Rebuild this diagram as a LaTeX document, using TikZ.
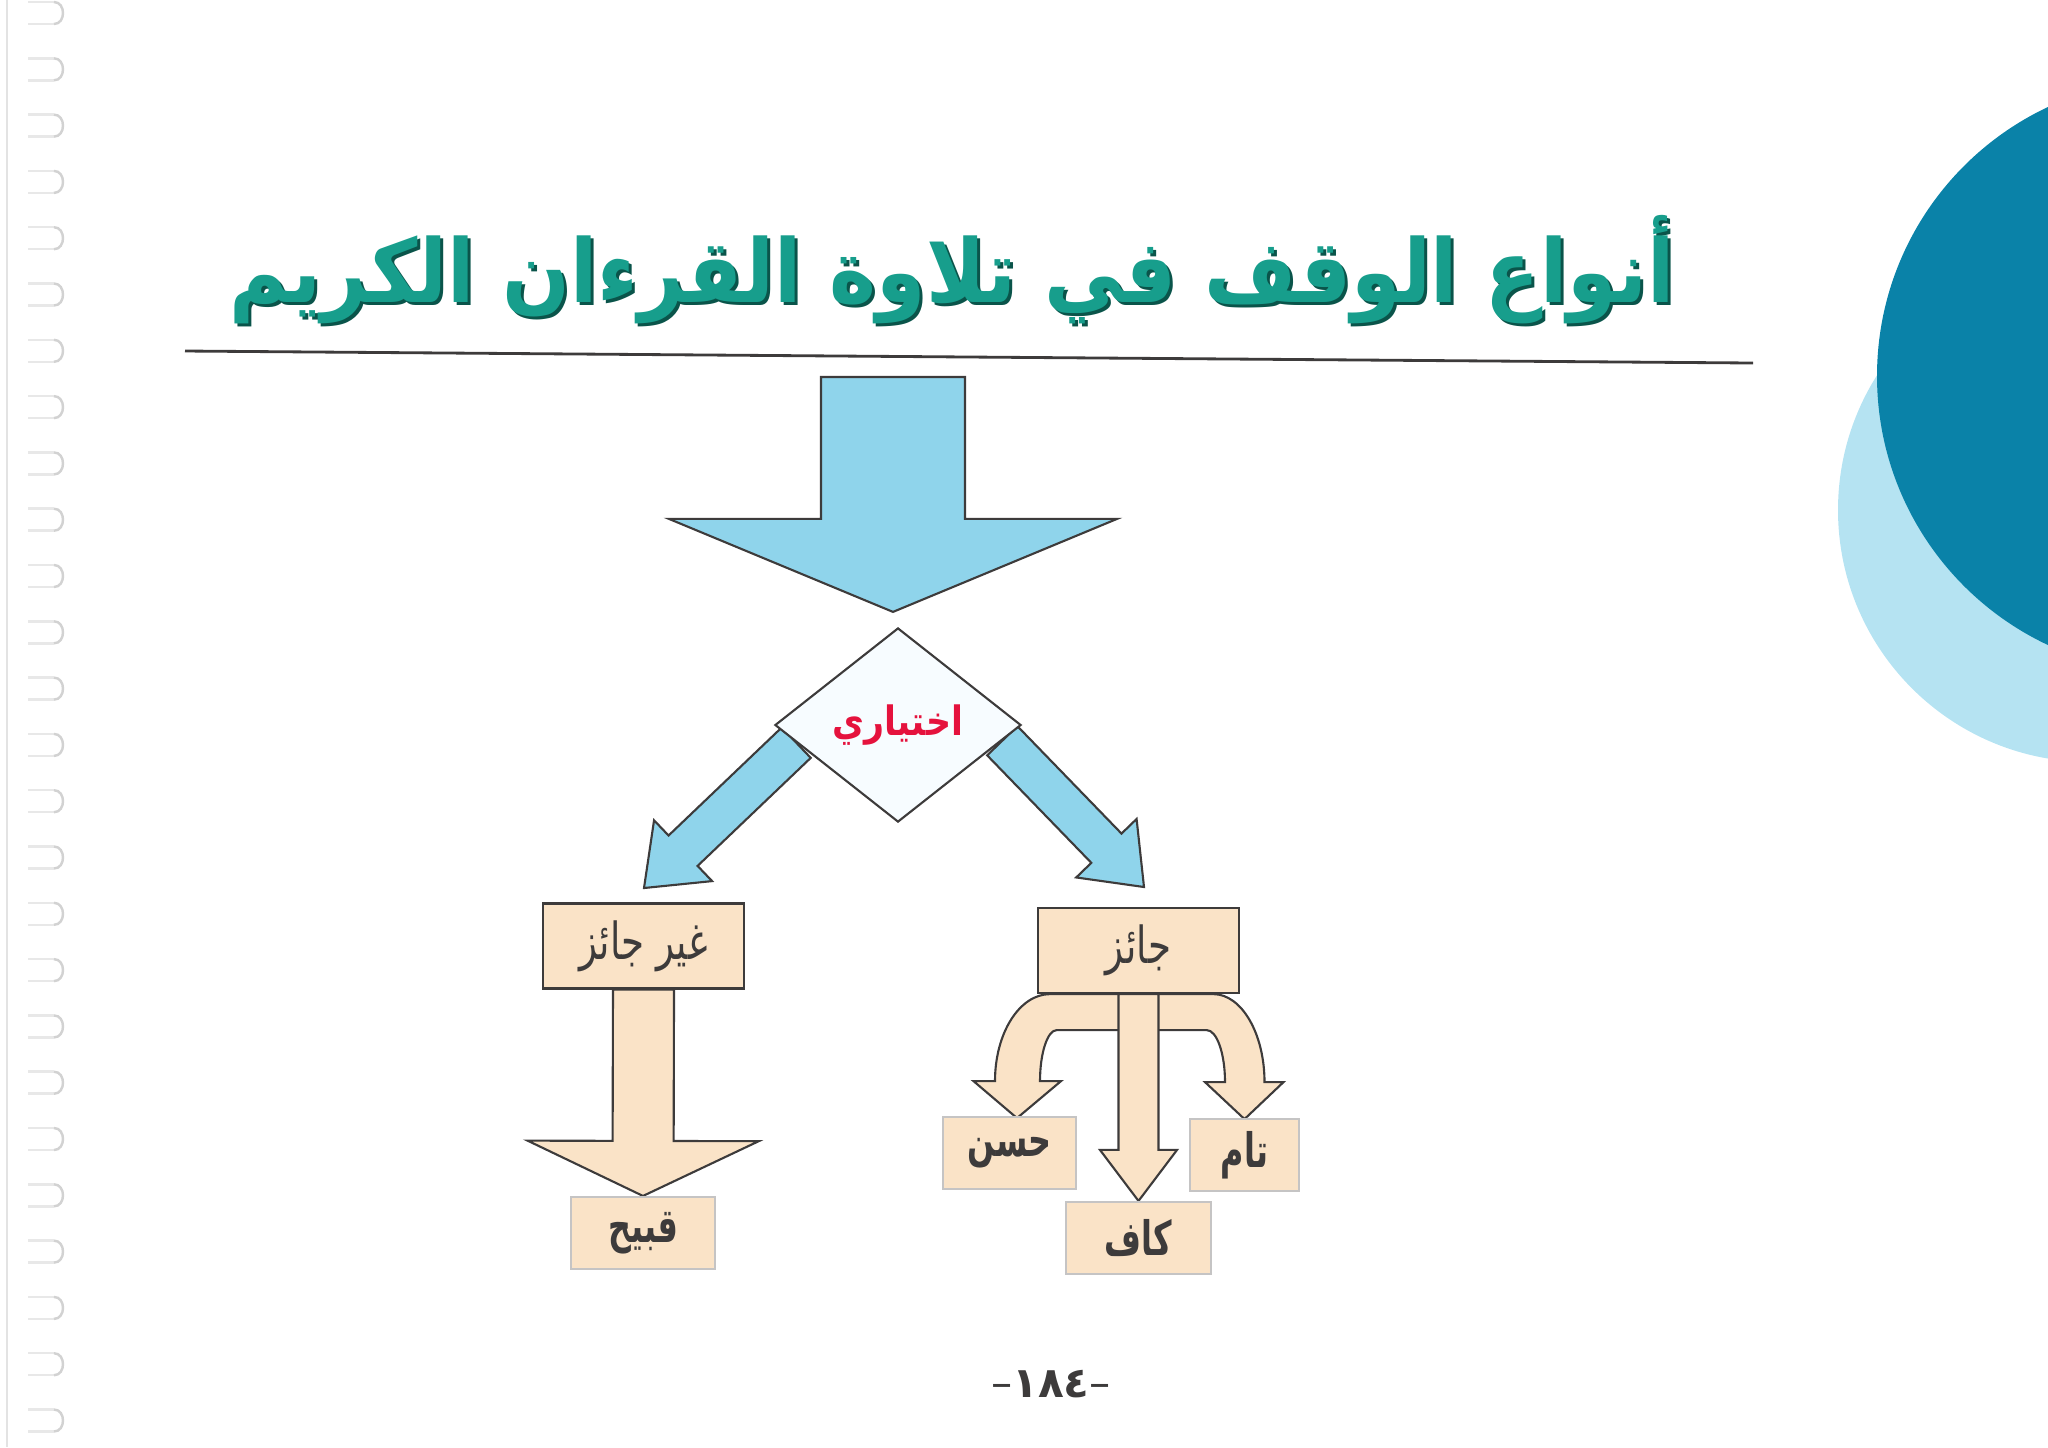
\documentclass[tikz,border=0pt]{standalone}
\usepackage{fontspec}
\usepackage{xcolor}
\usetikzlibrary{calc,shapes.geometric,backgrounds}
\TeXXeTstate=1
\newfontfamily\arabicfont[Script=Arabic]{DejaVu Sans}
\newcommand{\artxt}[2][0.8]{{\arabicfont\scalebox{#1}[1]{\beginR#2\endR}}}
% block arrow: style, from, to, half shaft, half head, head length
\newcommand{\fatarrow}[6]{%
    \draw[#1] ($(#2)!#4!90:(#3)$) -- ($(#3)!#6!(#2)!#4!-90:(#2)$)
        -- ($(#3)!#6!(#2)!#5!-90:(#2)$) -- (#3)
        -- ($(#3)!#6!(#2)!#5!90:(#2)$) -- ($(#3)!#6!(#2)!#4!90:(#2)$)
        -- ($(#2)!#4!-90:(#3)$) -- cycle;}
\definecolor{sand}{rgb}{0.98, 0.89, 0.78}
\definecolor{sky}{rgb}{0.56, 0.83, 0.92}
\definecolor{ink}{rgb}{0.24, 0.23, 0.23}
\definecolor{leaf}{rgb}{0.09, 0.62, 0.55}
\definecolor{leafdark}{rgb}{0.04, 0.33, 0.29}
\definecolor{deep}{rgb}{0.04, 0.51, 0.66}
\definecolor{pale}{rgb}{0.71, 0.89, 0.95}
\definecolor{alert}{rgb}{0.90, 0.07, 0.24}
\definecolor{paper}{rgb}{0.97, 0.99, 1.0}

\begin{document}
\begin{tikzpicture}[x=0.01cm, y=-0.01cm,
        bigbox/.style={draw=ink, line width=0.6pt, fill=sand, inner sep=0pt,
            minimum width=2.01cm, minimum height=0.85cm, text=ink, font=\fontsize{14.5}{16}\selectfont},
        smallbox/.style={draw=ink!30, line width=0.6pt, fill=sand, inner sep=0pt,
            minimum height=0.72cm, text=ink, font=\bfseries\fontsize{13.5}{15}\selectfont},
        bluearrow/.style={draw=ink, line width=0.6pt, fill=sky},
        sandarrow/.style={draw=ink, line width=0.6pt, fill=sand},
        ring/.style={draw=gray!35, line width=0.7pt},
        headline/.style={font=\bfseries\fontsize{26}{30}\selectfont}]
    \useasboundingbox (0,0) rectangle (2048,1447);

    % title
    \node[headline, text=leafdark] (shade) at (955,273) {\scalebox{0.87}[0.96]{\artxt[1]{أنواع الوقف في تلاوة القرءان الكريم}}};
    \node[headline, text=leaf] (title) at (952,270) {\scalebox{0.87}[0.96]{\artxt[1]{أنواع الوقف في تلاوة القرءان الكريم}}};
    \draw[ink, line width=0.8pt] (185,351) -- (1753,363);

    % boxes
    \node[diamond, draw=ink, line width=0.6pt, fill=paper, inner sep=0pt,
        minimum width=2.46cm, minimum height=1.94cm, text=alert,
        font=\bfseries\fontsize{11.5}{13}\selectfont] (choice) at (898,725) {\raisebox{-0.07cm}{\artxt[0.86]{اختياري}}};
    \node[bigbox] (ghayr) at (643.5,946) {\artxt[0.73]{غير جائز}};
    \node[bigbox] (jaiz) at (1138.5,950.5) {\artxt[0.73]{جائز}};
    \node[smallbox, minimum width=1.44cm] (qabih) at (643,1233) {\raisebox{-0.03cm}{\artxt[0.67]{قبيح}}};
    \node[smallbox, minimum width=1.33cm] (hasan) at (1009.5,1153) {\raisebox{-0.06cm}{\artxt[0.67]{حسن}}};
    \node[smallbox, minimum width=1.45cm] (kaf) at (1138.5,1238) {\artxt[0.67]{كاف}};
    \node[smallbox, minimum width=1.09cm] (tam) at (1244.5,1155) {\raisebox{-0.05cm}{\artxt[0.67]{تام}}};
    \node[text=ink, font=\fontsize{12}{14}\selectfont] (page) at (1051,1384) {\arabicfont –{\bfseries ١٨٤}–};

    \coordinate (topStart) at (893,377);
    \coordinate (topTip) at ($(choice.north)+(-5,-15)$);
    \coordinate (leftStart) at ($(choice.west)!0.18!(choice.south)$);
    \coordinate (rightStart) at ($(choice.east)!0.16!(choice.south)$);
    \coordinate (leftTip) at (644,888);
    \coordinate (rightTip) at (1144,887);

    \begin{scope}[on background layer]
        \fill[pale] (2090,510) circle (252);
        \fill[deep] (2174,376) circle (297);
        % binding
        \draw[ring, draw=gray!22] (7,0) -- (7,1447);
        \foreach \k [evaluate=\k as \ry using 13+56.3*\k] in {0,...,25}{
            \draw[ring, draw=gray!18] (28,{\ry-11}) -- (54,{\ry-11});
            \draw[ring, draw=gray!18] (28,{\ry+11}) -- (54,{\ry+11});
            \draw[ring] (54,{\ry-11}) .. controls (66,{\ry-11}) and (66,{\ry+11}) .. (54,{\ry+11});
        }
        \fatarrow{bluearrow}{topStart}{topTip}{0.72cm}{2.24cm}{0.93cm}
        \fatarrow{bluearrow}{leftStart}{leftTip}{0.21cm}{0.42cm}{0.54cm}
        \fatarrow{bluearrow}{rightStart}{rightTip}{0.21cm}{0.42cm}{0.54cm}
        \fatarrow{sandarrow}{ghayr.south}{qabih.north}{0.305cm}{1.155cm}{0.55cm}
        % branches under jaiz
        \begin{scope}[shift={(jaiz.south)}]
            \draw[sandarrow] (-88.5,0) .. controls (-119,0) and (-143.5,39) .. (-143.5,87)
                -- (-165,87) -- (-121.5,124) -- (-77.5,87) -- (-98.5,87)
                .. controls (-98.5,59) and (-91,36) .. (-81.8,36) -- (68.2,36)
                .. controls (78.3,36) and (86.5,59.3) .. (86.5,88)
                -- (66.5,88) -- (106,125) -- (145,88) -- (126,88)
                .. controls (126,39.4) and (103,0) .. (74.8,0) -- cycle;
        \end{scope}
        \fatarrow{sandarrow}{jaiz.south}{kaf.north}{0.2cm}{0.385cm}{0.51cm}
    \end{scope}
\end{tikzpicture}
\end{document}
